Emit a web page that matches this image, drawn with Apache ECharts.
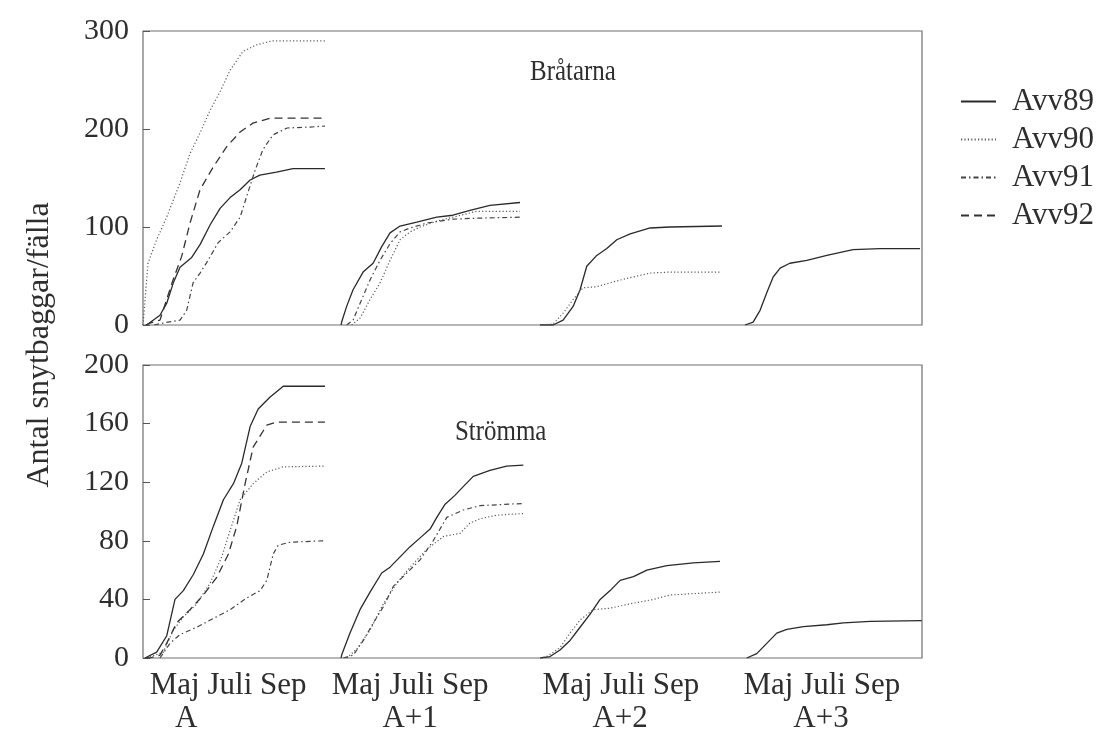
<!DOCTYPE html>
<html>
<head>
<meta charset="utf-8">
<script src="https://cdn.jsdelivr.net/npm/echarts@6/dist/echarts.min.js"></script>
<style>
  html, body { margin: 0; padding: 0; background: #fff; }
  #chart { width: 1108px; height: 738px; }
</style>
</head>
<body>
<div id="chart"></div>
<script>
// Kumulativt antal snytbaggar per fälla, fyra säsonger efter avverkning.
// Varje punkt: [månader från 1 april, antal]. null = ingen mätning den säsongen.
const fellings = ['Avv89', 'Avv90', 'Avv91', 'Avv92'];
const seasonNames = ['A', 'A+1', 'A+2', 'A+3'];
const monthText = 'Maj Juli Sep';
const sites = ['Bråtarna', 'Strömma'];
const bratarnaTicks = [0, 100, 200, 300];
const strommaTicks = [0, 40, 80, 120, 160, 200];

const bratarnaAvv89 = [
  [[0.13,0],[0.61,10],[0.85,22],[1.09,43],[1.33,59],[1.75,69],[2.05,82],[2.41,102],[2.77,119],[3.13,130],[3.49,138],[3.85,148],[4.2,153],[4.8,156],[5.39,159.5],[6.54,159.5]],
  [[0.12,0],[0.14,3],[0.32,19],[0.55,36],[0.91,54],[1.27,63],[1.58,80],[1.88,94],[2.24,101],[2.84,105],[3.56,110],[4.14,112],[4.75,117],[5.47,122],[6.55,125]],
  [[0.27,0],[0.74,0],[1.10,5],[1.46,19],[1.71,36],[1.95,60],[2.31,71],[2.67,78],[3.03,87],[3.51,93],[4.23,99],[4.94,100],[6.81,101]],
  [[0.64,0],[0.93,3],[1.18,15],[1.42,33],[1.65,49],[1.90,58],[2.25,63],[2.86,66],[3.58,71],[4.52,77],[5.49,78],[6.93,78]]
];
const bratarnaAvv90 = [
  [[0.0,0],[0.18,63],[0.49,87],[0.85,110],[1.33,145],[1.69,175],[2.05,196],[2.41,219],[2.77,238],[3.13,260],[3.59,279],[4.09,286],[4.67,290],[6.54,290]],
  [[0.50,0],[0.80,7],[1.16,26],[1.52,43],[1.88,66],[2.24,87],[2.60,95],[2.96,100],[3.56,106],[4.14,110],[4.99,116],[6.55,116]],
  [[0.27,0],[0.74,1],[1.10,12],[1.46,26],[1.82,38],[2.31,39],[2.89,44],[3.61,49],[4.23,53],[4.94,54],[6.74,54]],
  null
];
const bratarnaAvv91 = [
  [[0.4,0],[0.72,2],[1.33,5],[1.57,15],[1.80,43],[2.05,53],[2.34,66],[2.70,84],[3.13,95],[3.49,110],[3.77,135],[4.03,158],[4.31,179],[4.67,194],[5.18,201],[6.0,202],[6.54,203]],
  [[0.32,0],[0.55,5],[0.86,26],[1.16,46],[1.52,66],[1.88,83],[2.24,95],[2.60,99],[3.20,104],[4.14,108],[4.99,109],[6.55,110]],
  null,
  null
];
const bratarnaAvv92 = [
  [[0.1,0],[0.25,2],[0.61,5],[0.85,26],[1.08,46],[1.39,70],[1.69,104],[2.05,138],[2.52,161],[3.01,182],[3.49,197],[3.95,206],[4.57,211],[6.54,211]],
  null,
  null,
  null
];

const strommaAvv89 = [
  [[0.07,0],[0.49,4],[0.85,15],[1.15,40],[1.45,46],[1.81,57],[2.17,71],[2.53,90],[2.89,108],[3.25,119],[3.55,133],[3.85,158],[4.14,170],[4.56,178],[5.04,185.5],[6.54,185.5]],
  [[0.12,0],[0.14,2],[0.44,17],[0.80,33],[1.16,45],[1.58,58],[1.88,62],[2.24,69],[2.60,76],[2.96,82],[3.32,88],[3.56,96],[3.86,105],[4.21,111],[4.51,117],[4.87,124],[5.47,128],[6.07,131],[6.67,131.6]],
  [[0.27,0],[0.63,1],[0.99,5.5],[1.35,12],[1.71,21],[2.07,30],[2.43,40],[2.79,46],[3.15,53],[3.63,55.5],[4.11,60],[4.83,63],[5.78,65],[6.74,66]],
  [[0.70,0],[1.06,3],[1.42,10],[1.78,17],[2.14,19.6],[2.74,21.4],[3.58,22.7],[4.18,24],[5.14,25],[6.99,25.5]]
];
const strommaAvv90 = [
  [[0.13,0],[0.73,4],[1.09,19],[1.45,28],[1.93,37],[2.41,51],[2.83,69],[3.13,87],[3.49,108],[3.96,119],[4.45,127],[5.04,130.5],[6.54,131]],
  [[0.32,0],[0.68,6],[1.16,19],[1.64,37],[2.12,51],[2.60,62],[3.20,74],[3.80,83],[4.39,85],[4.75,92],[5.11,95],[5.71,97.5],[6.67,98.6]],
  [[0.27,0],[0.51,1],[0.99,7],[1.35,17],[1.71,26],[2.19,33],[2.79,34],[3.51,37],[4.35,40],[4.94,43],[6.74,45]],
  null
];
const strommaAvv91 = [
  [[0.61,0],[0.97,10],[1.33,16],[1.93,21],[2.53,27],[3.13,33],[3.73,41],[4.21,46],[4.45,53],[4.68,71],[4.86,77],[5.28,79],[6.48,80]],
  [[0.20,0],[0.56,2],[0.92,12],[1.28,24],[1.64,35],[2.0,49],[2.48,58],[2.96,67],[3.43,80],[3.92,96],[4.51,101],[5.11,104],[6.67,105.5]],
  null,
  null
];
const strommaAvv92 = [
  [[0.10,0],[0.25,0],[0.61,2],[0.85,10],[1.21,24],[1.69,33],[2.17,43],[2.65,55],[3.07,71],[3.37,90],[3.67,119],[3.96,144],[4.45,159],[4.81,161],[6.54,161]],
  null,
  null,
  null
];

// Each season occupies 7 months (april–oktober) of the shared x scale.
const SEASON = 7;
const panels = [
  [bratarnaAvv89, bratarnaAvv90, bratarnaAvv91, bratarnaAvv92],
  [strommaAvv89, strommaAvv90, strommaAvv91, strommaAvv92]
];
const panelTicks = [bratarnaTicks, strommaTicks];

const FONT = '"Liberation Serif", "DejaVu Serif", serif';
const INK = '#2e2e2e';
const lineStyles = {
  Avv89: { color: '#2a2a2a', width: 1.3, type: 'solid' },
  Avv90: { color: '#5a5a5a', width: 1.2, type: [1.2, 2.2] },
  Avv91: { color: '#444', width: 1.2, type: [5, 3, 1.5, 3] },
  Avv92: { color: '#333', width: 1.3, type: [8, 5] }
};

const series = [];
panels.forEach((sets, p) => {
  sets.forEach((blocks, f) => {
    const name = fellings[f];
    blocks.forEach((pts, b) => {
      if (!pts) return;
      series.push({
        type: 'line',
        name: name,
        xAxisIndex: p,
        yAxisIndex: p,
        data: pts.map(([m, v]) => [b * SEASON + m, v]),
        symbol: 'none',
        showSymbol: false,
        color: lineStyles[name].color,
        lineStyle: lineStyles[name],
        silent: true,
        animation: false
      });
    });
  });
});

const gridLeft = 143, gridRight = 186;
const grids = [
  { left: gridLeft, right: gridRight, top: 31, height: 294 },
  { left: gridLeft, right: gridRight, top: 365, height: 293 }
].map(g => Object.assign(g, { show: true, borderColor: '#707070', borderWidth: 1.2 }));

function yAxisFor(p) {
  const ticks = panelTicks[p];
  return {
    type: 'value',
    gridIndex: p,
    min: ticks[0],
    max: ticks[ticks.length - 1],
    interval: ticks[1] - ticks[0],
    axisLine: { show: false },
    axisTick: { show: true, inside: true, length: 7, lineStyle: { color: '#555', width: 1 } },
    splitLine: { show: false },
    axisLabel: { fontFamily: FONT, fontSize: 30, color: INK, margin: 14 }
  };
}

const hiddenX = {
  type: 'value', min: 0, max: 4 * SEASON,
  axisLine: { show: false }, axisTick: { show: false },
  splitLine: { show: false }, axisLabel: { show: false }
};

// Label centres within each season (months from 1 april).
const monthLabelAt = [3.06, 2.6, 3.18, 3.4];
const seasonLabelAt = [1.55, 2.6, 3.15, 3.37];

// Panel headings, set in a narrow serif.
function heading(text, x, y) {
  return {
    type: 'text', x: x, y: y, scaleX: 0.86,
    style: { text: text, fontFamily: FONT, fontSize: 29, fill: INK, align: 'left', verticalAlign: 'middle' }
  };
}

const option = {
  backgroundColor: '#fff',
  animation: false,
  legend: {
    data: fellings,
    orient: 'vertical',
    left: 955,
    top: 81,
    itemWidth: 35,
    itemHeight: 14,
    itemGap: 7,
    itemStyle: { opacity: 0, borderWidth: 0 },
    lineStyle: { opacity: 1 },
    textStyle: { fontFamily: FONT, fontSize: 31, color: INK, lineHeight: 31, padding: [0, 0, 0, 11] },
    selectedMode: false
  },
  grid: grids,
  xAxis: [
    Object.assign({ gridIndex: 0 }, hiddenX),
    Object.assign({ gridIndex: 1 }, hiddenX, {
      axisLabel: {
        show: true,
        customValues: monthLabelAt.map((m, b) => b * SEASON + m),
        formatter: () => monthText,
        fontFamily: FONT, fontSize: 31, color: INK, margin: 12
      }
    }),
    Object.assign({ gridIndex: 1, position: 'bottom', offset: 33 }, hiddenX, {
      axisLabel: {
        show: true,
        customValues: seasonLabelAt.map((m, b) => b * SEASON + m),
        formatter: (v) => seasonNames[Math.floor(v / SEASON)],
        fontFamily: FONT, fontSize: 31, color: INK, margin: 12
      }
    })
  ],
  yAxis: [yAxisFor(0), yAxisFor(1)],
  graphic: [
    heading(sites[0], 530, 72),
    heading(sites[1], 455, 432),
    {
      type: 'text',
      x: 40,
      y: 345,
      rotation: Math.PI / 2,
      style: {
        text: 'Antal snytbaggar/fälla',
        fontFamily: FONT,
        fontSize: 32,
        fill: INK,
        align: 'center',
        verticalAlign: 'middle'
      }
    }
  ],
  series: series
};

const chart = echarts.init(document.getElementById('chart'), null, { renderer: 'canvas' });
chart.setOption(option);
</script>
</body>
</html>
